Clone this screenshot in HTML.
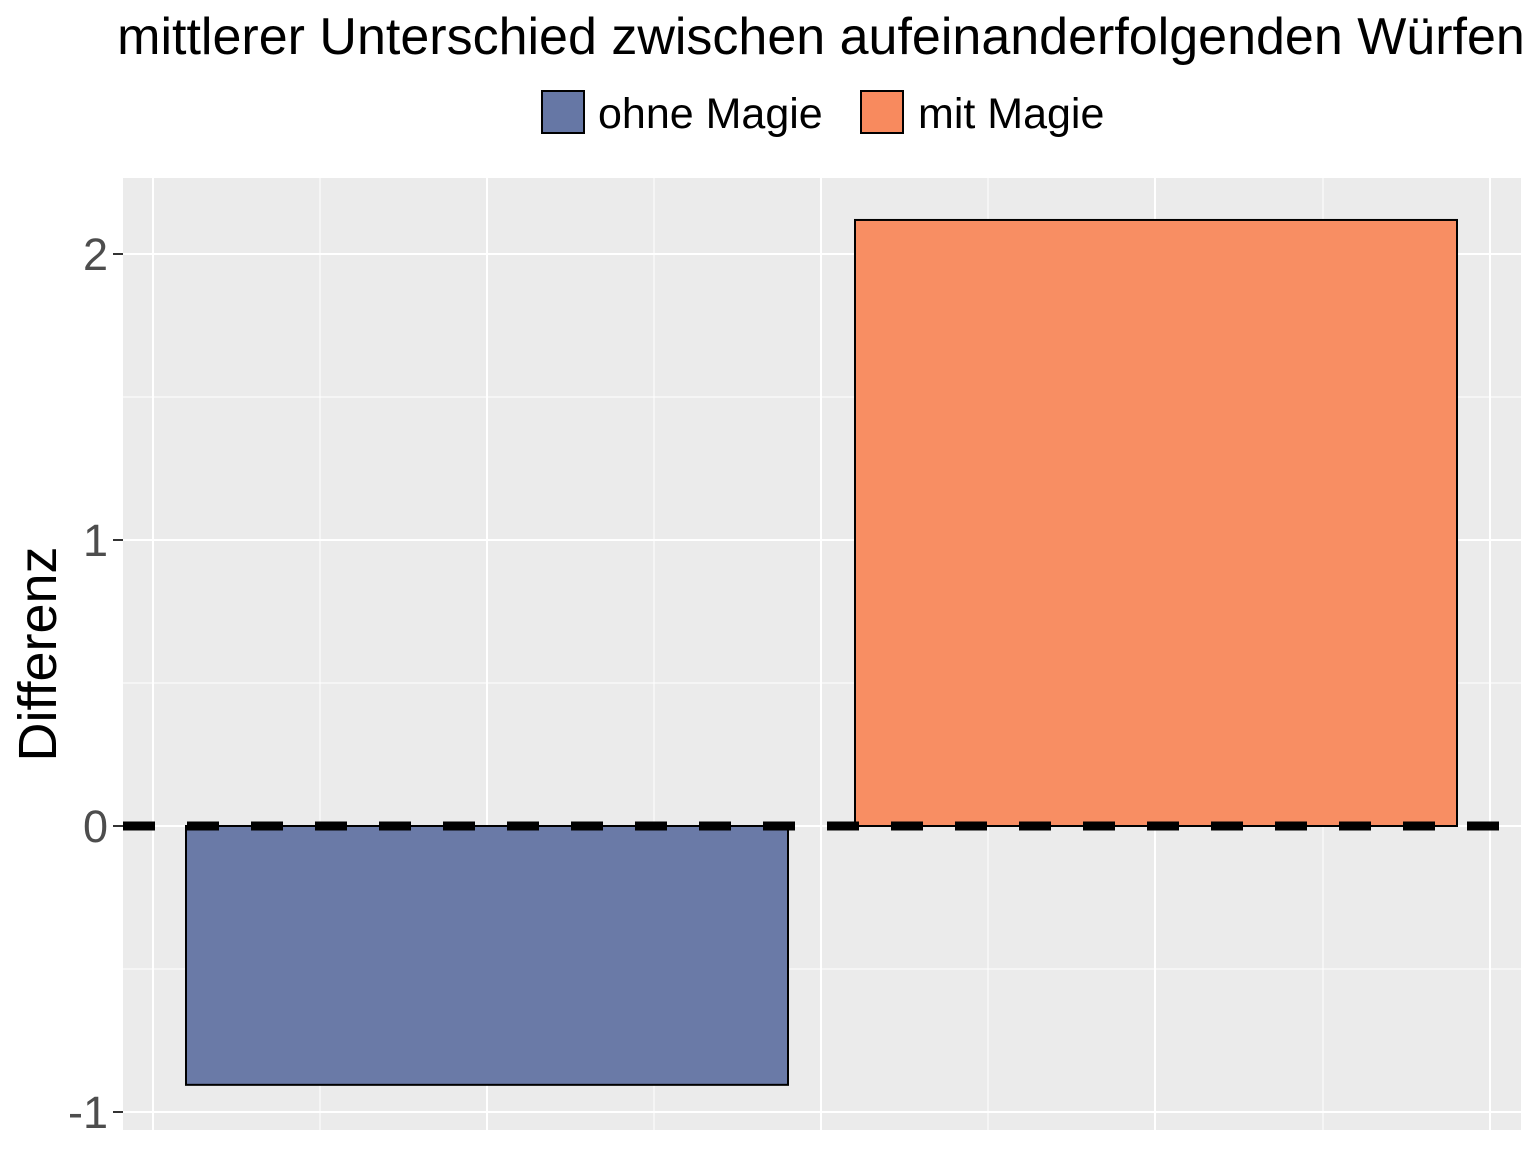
<!DOCTYPE html>
<html><head><meta charset="utf-8"><style>
body{margin:0;background:#fff;}
svg{display:block;font-family:"Liberation Sans",Arial,sans-serif;}
</style></head><body>
<svg id="chart" width="1536" height="1152" viewBox="0 0 1536 1152">
<text x="821" y="54" font-size="52" text-anchor="middle" fill="#000">mittlerer Unterschied zwischen aufeinanderfolgenden Würfen</text>
<g>
<rect x="542" y="91" width="42" height="42" fill="#6677a5" stroke="#000" stroke-width="2"/>
<text x="598" y="128" font-size="43">ohne Magie</text>
<rect x="861" y="91" width="42" height="42" fill="#f88a5e" stroke="#000" stroke-width="2"/>
<text x="918" y="128" font-size="43">mit Magie</text>
</g>
<rect x="123" y="178" width="1398" height="952" fill="#ebebeb"/>
<g id="grid"></g>
<g id="bars"></g>
<line x1="123" x2="1521" y1="826" y2="826" stroke="#000" stroke-width="9" stroke-dasharray="32 32"/>
<g id="yaxis"></g>
<text transform="translate(56,654) rotate(-90)" font-size="54" text-anchor="middle" fill="#000">Differenz</text>
</svg>
<script>
const categories = ["ohne Magie", "mit Magie"];
const values = [-0.905, 2.119];
const colors = ["#6576a4", "#f88a5e"];
const yTicks = [-1, 0, 1, 2];
const yTickLabels = ["-1", "0", "1", "2"];
const NS = "http://www.w3.org/2000/svg";
const y = v => 826 - v * 286;
const xCenter = i => 487 + i * 669;
const bw = 602;
function mk(tag, attrs, parent){const e=document.createElementNS(NS,tag);for(const k in attrs)e.setAttribute(k,attrs[k]);parent.appendChild(e);return e;}
const grid = document.getElementById('grid');
[-0.5,0.5,1.5].forEach(v=>{const l=mk('line',{x1:123,x2:1521,y1:y(v),y2:y(v),stroke:'#fff','stroke-width':1},grid);

});
yTicks.forEach(v=>{const l=mk('line',{x1:123,x2:1521,y1:y(v),y2:y(v),stroke:'#fff','stroke-width':2},grid);

});
[153,487,821,1155,1490].forEach(x=>{const l=mk('line',{x1:x,x2:x,y1:178,y2:1130,stroke:'#fff','stroke-width':2},grid);

});
[320,654,988,1323].forEach(x=>{const l=mk('line',{x1:x,x2:x,y1:178,y2:1130,stroke:'#fff','stroke-width':1},grid);

});
const bars = document.getElementById('bars');
values.forEach((v,i)=>{const top=Math.min(y(v),y(0)),h=Math.abs(y(v)-y(0));
const r=mk('rect',{x:xCenter(i)-bw/2,y:top,width:bw,height:h,fill:colors[i],'fill-opacity':0.97,stroke:'#000','stroke-width':2},bars);

});
const ya = document.getElementById('yaxis');
yTicks.forEach((v,i)=>{const t=mk('line',{x1:113,x2:123,y1:y(v),y2:y(v),stroke:'#333','stroke-width':2},ya);


const tx=mk('text',{x:108,y:y(v)+16,'font-size':45,'text-anchor':'end',fill:'#4d4d4d'},ya);
tx.textContent=yTickLabels[i];

});
</script>
</body></html>
